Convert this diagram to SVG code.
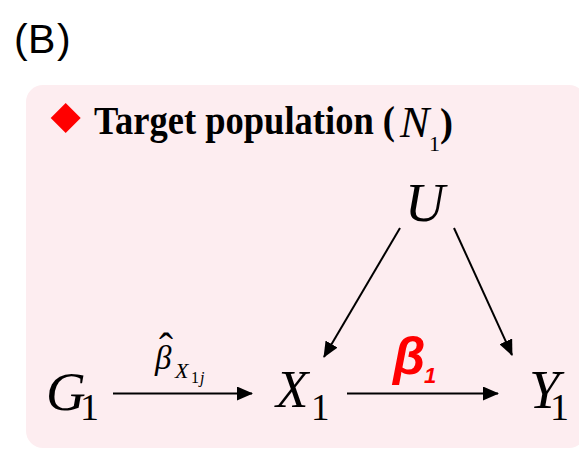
<svg xmlns="http://www.w3.org/2000/svg" width="579" height="449" viewBox="0 0 579 449">
<defs>
<style>
.serif{font-family:"Liberation Serif","Times New Roman",serif;fill:#000}
.it{font-style:italic}
.bd{font-weight:bold}
.sans{font-family:"Liberation Sans",Arial,sans-serif}
.edge{stroke:#000;stroke-width:2;fill:none}
</style>
<marker id="ah" viewBox="0 0 16 14" refX="15" refY="7" markerWidth="16" markerHeight="14" markerUnits="userSpaceOnUse" orient="auto">
<path d="M0,0 L16,7 L0,14 Z" fill="#000"/>
</marker>
</defs>
<rect width="579" height="449" fill="#fff"/>
<text class="sans" x="14 28 57" y="53" font-size="41">(B)</text>
<rect id="panel" x="26" y="85" width="560" height="363" rx="17" fill="#fdedf0"/>
<g id="title">
<polygon points="65.7,103 80.7,118 65.7,133 50.7,118" fill="#ff0000"/>
<text class="serif bd" x="94" y="134" font-size="39" textLength="301" lengthAdjust="spacingAndGlyphs">Target population (</text>
<text class="serif it" x="400" y="137" font-size="44">N</text>
<text class="serif" x="429" y="151" font-size="22">1</text>
<text class="serif bd" x="440" y="136" font-size="39">)</text>
</g>
<g id="node-U"><text class="serif it" x="405" y="221" font-size="55">U</text></g>
<g id="node-G1"><text class="serif it" x="46" y="410" font-size="55">G</text><text class="serif" x="80" y="420" font-size="38">1</text></g>
<g id="node-X1"><text class="serif it" x="276" y="407" font-size="53">X</text><text class="serif" x="311" y="420" font-size="37">1</text></g>
<g id="node-Y1"><text class="serif it" x="529" y="408" font-size="55">Y</text><text class="serif" x="550" y="420" font-size="38">1</text></g>
<g id="connectors">
<line class="edge" x1="113" y1="393.5" x2="252" y2="393.5" marker-end="url(#ah)"/>
<line class="edge" x1="347" y1="393.5" x2="498" y2="393.5" marker-end="url(#ah)"/>
<line class="edge" x1="400" y1="228" x2="324" y2="357" marker-end="url(#ah)"/>
<line class="edge" x1="454" y1="228" x2="512" y2="355" marker-end="url(#ah)"/>
</g>
<g id="label-beta-hat">
<text class="serif it" x="155" y="369" font-size="33">β</text>
<text class="serif" x="159" y="362" font-size="42">ˆ</text>
<text class="serif it" x="175" y="378" font-size="22">X</text>
<text class="serif" x="191" y="383" font-size="16">1</text>
<text class="serif it" x="200" y="383" font-size="16">j</text>
</g>
<g id="label-beta1">
<text class="sans bd it" x="393" y="374" font-size="52" fill="#ff0000">β</text>
<text class="sans bd it" x="424" y="383" font-size="22" fill="#ff0000">1</text>
</g>
</svg>
